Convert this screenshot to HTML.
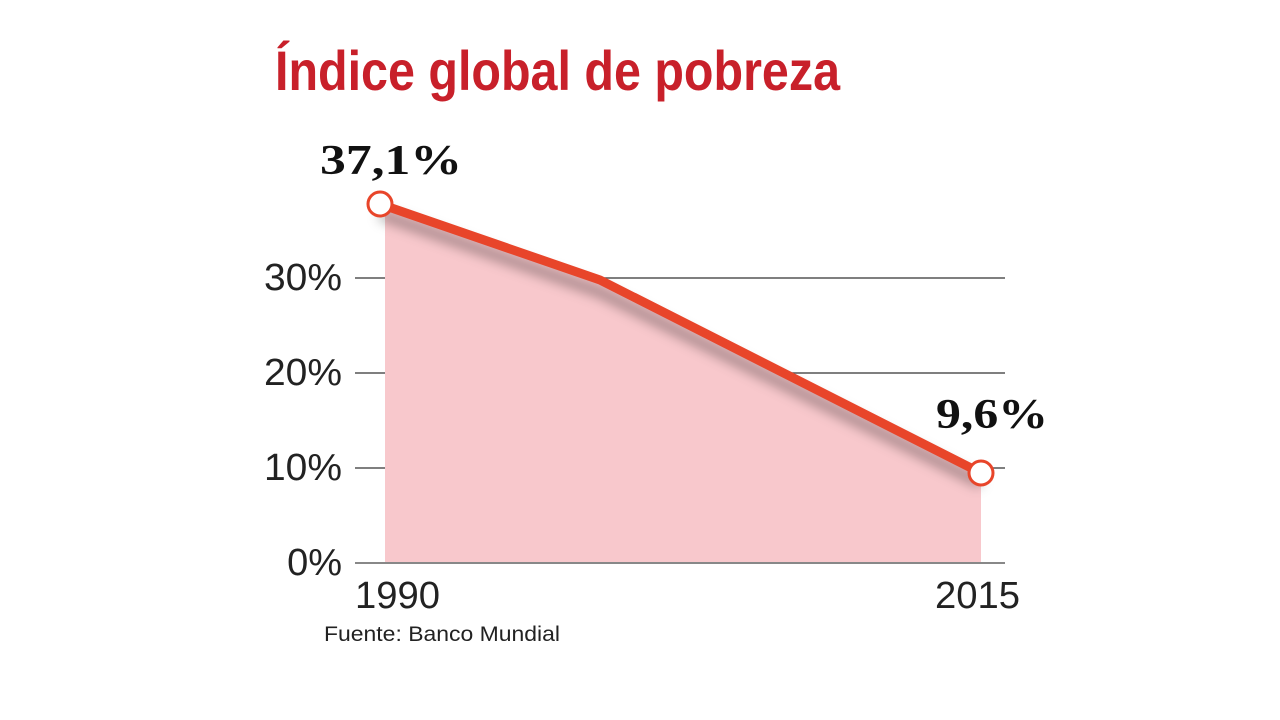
<!DOCTYPE html>
<html><head><meta charset="utf-8"><style>
html,body{margin:0;padding:0;background:#fff;width:1280px;height:720px;overflow:hidden}
</style></head><body>
<svg width="1280" height="720" viewBox="0 0 1280 720" xmlns="http://www.w3.org/2000/svg">
<defs><filter id="sh" x="-20%" y="-20%" width="140%" height="160%"><feGaussianBlur stdDeviation="6"/></filter></defs>
<text x="275" y="90" font-family="Liberation Sans, sans-serif" font-weight="bold" font-size="56" fill="#c8202a" textLength="565" lengthAdjust="spacingAndGlyphs">Índice global de pobreza</text>
<g stroke="#555" stroke-width="1.5">
<line x1="355" y1="278" x2="1005" y2="278"/>
<line x1="355" y1="373" x2="1005" y2="373"/>
<line x1="355" y1="468" x2="1005" y2="468"/>
</g>
<polygon points="385,204 600,280 981,473 981,563 385,563" fill="#f8c8cc"/>
<line x1="355" y1="563" x2="1005" y2="563" stroke="#888" stroke-width="2"/>
<polyline points="380,214 600,292 981,483" fill="none" stroke="#000" stroke-opacity="0.35" stroke-width="10" filter="url(#sh)"/>
<polyline points="380,204 600,280 981,473" fill="none" stroke="#e8452a" stroke-width="9" stroke-linejoin="round"/>
<circle cx="380" cy="204" r="12" fill="#fff" stroke="#e8452a" stroke-width="3"/>
<circle cx="981" cy="473" r="12" fill="#fff" stroke="#e8452a" stroke-width="3"/>
<g font-family="Liberation Sans, sans-serif" font-size="38" fill="#222">
<text x="342" y="290" text-anchor="end" textLength="78" lengthAdjust="spacingAndGlyphs">30%</text>
<text x="342" y="385" text-anchor="end" textLength="78" lengthAdjust="spacingAndGlyphs">20%</text>
<text x="342" y="480" text-anchor="end" textLength="78" lengthAdjust="spacingAndGlyphs">10%</text>
<text x="342" y="575" text-anchor="end">0%</text>
<text x="355" y="608" textLength="85" lengthAdjust="spacingAndGlyphs">1990</text>
<text x="935" y="608" textLength="85" lengthAdjust="spacingAndGlyphs">2015</text>
</g>
<text x="324" y="641" font-family="Liberation Sans, sans-serif" font-size="21" fill="#222" textLength="236" lengthAdjust="spacingAndGlyphs">Fuente: Banco Mundial</text>
<g font-family="Liberation Serif, serif" font-weight="bold" font-size="42" fill="#111">
<text x="320" y="174" textLength="142" lengthAdjust="spacingAndGlyphs">37,1%</text>
<text x="936" y="428" textLength="112" lengthAdjust="spacingAndGlyphs">9,6%</text>
</g>
</svg>
</body></html>
